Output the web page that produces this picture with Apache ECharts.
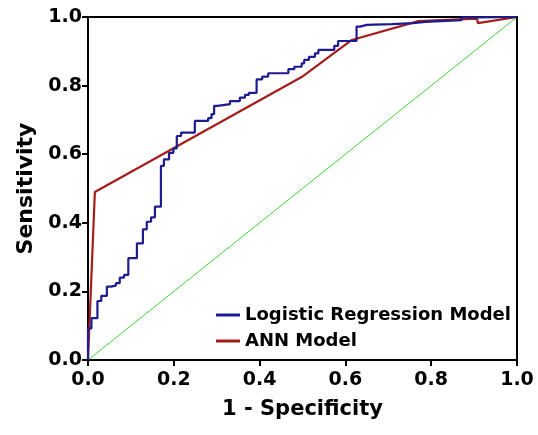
<!DOCTYPE html>
<html>
<head>
<meta charset="utf-8">
<script src="https://cdn.jsdelivr.net/npm/echarts@6/dist/echarts.min.js"></script>
<style>html,body{margin:0;padding:0;background:#fff;}#c{width:538px;height:435px;}</style>
</head>
<body>
<div id="c"></div>
<script>
// Logistic regression ROC (step corners: at fpr x, tpr rises to y)
var lrFpr = [0, 0, 0.008, 0.022, 0.031, 0.044, 0.053, 0.065, 0.074, 0.084, 0.094, 0.114, 0.128, 0.137, 0.147, 0.156, 0.170, 0.177, 0.189, 0.199, 0.207, 0.217, 0.249, 0.280, 0.288, 0.294, 0.302, 0.331, 0.354, 0.366, 0.375, 0.393, 0.406, 0.420, 0.467, 0.481, 0.498, 0.504, 0.515, 0.529, 0.537, 0.574, 0.583, 0.626, 0.634, 0.650, 0.708, 0.758, 0.786, 0.871, 0.910, 1.0];
var lrTpr = [0, 0.092, 0.122, 0.172, 0.187, 0.214, 0.217, 0.224, 0.240, 0.248, 0.297, 0.340, 0.381, 0.403, 0.416, 0.447, 0.566, 0.585, 0.604, 0.617, 0.653, 0.663, 0.697, 0.705, 0.717, 0.741, 0.746, 0.755, 0.765, 0.773, 0.779, 0.818, 0.826, 0.836, 0.848, 0.855, 0.865, 0.875, 0.884, 0.894, 0.904, 0.916, 0.930, 0.972, 0.977, 0.979, 0.982, 0.986, 0.991, 0.999, 1.0, 1.0];
// ANN model ROC
var annFpr = [0, 0.016, 0.498, 0.615, 0.770, 0.907, 0.909, 1.0];
var annTpr = [0, 0.490, 0.825, 0.933, 0.988, 0.995, 0.982, 1.0];
// Reference diagonal
var refX = [0, 1];
var refY = [0, 1];
var xTicks = [0, 0.2, 0.4, 0.6, 0.8, 1.0];
var yTicks = [0, 0.2, 0.4, 0.6, 0.8, 1.0];

function zip(a, b) { return a.map(function (v, i) { return [v, b[i]]; }); }

var chart = echarts.init(document.getElementById('c'));
var font = 'DejaVu Sans, Arial, sans-serif';
chart.setOption({
  animation: false,
  backgroundColor: '#fff',
  grid: { left: 88, right: 21, top: 17, bottom: 75, show: true, borderColor: '#000', borderWidth: 2, backgroundColor: 'transparent' },
  legend: {
    orient: 'vertical', left: 211, top: 301, itemGap: 8,
    itemWidth: 24, itemHeight: 3, icon: 'rect',
    textStyle: { fontFamily: font, fontWeight: 'bold', fontSize: 18, color: '#000' },
    data: ['Logistic Regression Model', 'ANN Model']
  },
  xAxis: {
    type: 'value', min: 0, max: 1, interval: 0.2,
    name: '1 - Specificity', nameLocation: 'middle', nameGap: 39,
    nameTextStyle: { fontFamily: font, fontWeight: 'bold', fontSize: 21, color: '#000' },
    axisLine: { show: true, lineStyle: { color: '#000', width: 2 } },
    axisTick: { show: true, length: 6, lineStyle: { color: '#000', width: 2 } },
    axisLabel: { fontFamily: font, fontWeight: 'bold', fontSize: 19, color: '#000', margin: 11,
      formatter: function (v) { return v.toFixed(1); } },
    splitLine: { show: false }
  },
  yAxis: {
    type: 'value', min: 0, max: 1, interval: 0.2,
    name: 'Sensitivity', nameLocation: 'middle', nameGap: 49,
    nameTextStyle: { fontFamily: font, fontWeight: 'bold', fontSize: 22, color: '#000' },
    axisLine: { show: true, lineStyle: { color: '#000', width: 2 } },
    axisTick: { show: true, length: 6, lineStyle: { color: '#000', width: 2 } },
    axisLabel: { fontFamily: font, fontWeight: 'bold', fontSize: 19, color: '#000', margin: 6,
      formatter: function (v) { return v.toFixed(1); } },
    splitLine: { show: false }
  },
  series: [
    { name: 'Reference', type: 'line', data: zip(refX, refY), showSymbol: false,
      lineStyle: { color: '#3fd13a', width: 1 }, itemStyle: { color: '#3fd13a' }, z: 1 },
    { name: 'ANN Model', type: 'line', data: zip(annFpr, annTpr), showSymbol: false,
      lineStyle: { color: '#a51c1c', width: 2.2 }, itemStyle: { color: '#a51c1c' }, z: 2 },
    { name: 'Logistic Regression Model', type: 'line', step: 'end', data: zip(lrFpr, lrTpr), showSymbol: false,
      lineStyle: { color: '#1c1c8f', width: 2.2 }, itemStyle: { color: '#1c1c8f' }, z: 3 }
  ]
});
</script>
</body>
</html>
